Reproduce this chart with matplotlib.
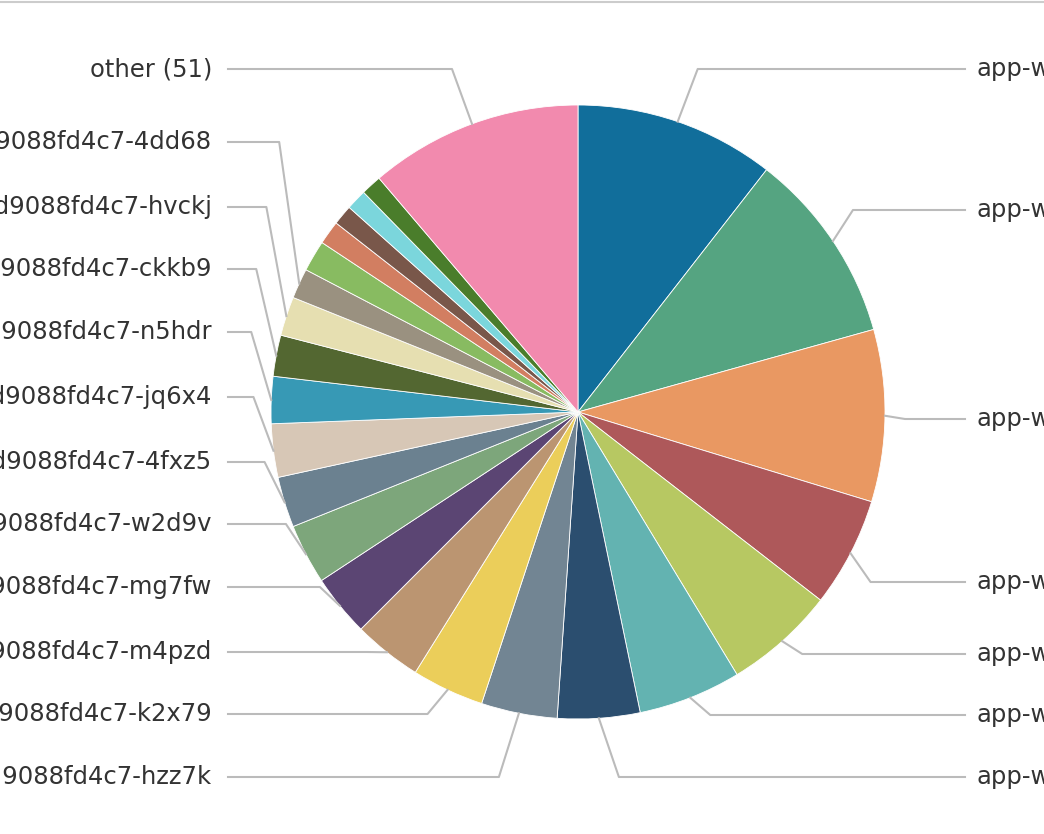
import matplotlib
matplotlib.use("Agg")
import matplotlib.pyplot as plt
import numpy as np

prefix = "app-web-5c7d9088fd4c7-"
labels = ["app-web-5c7d9088fd4c7-x8lq2", "app-web-5c7d9088fd4c7-p9tbn", "app-web-5c7d9088fd4c7-rz4kd",
          "app-web-5c7d9088fd4c7-7vw2s", "app-web-5c7d9088fd4c7-b6jmt", "app-web-5c7d9088fd4c7-q2cfx",
          "app-web-5c7d9088fd4c7-l5n8g",
          prefix + "hzz7k", prefix + "k2x79", prefix + "m4pzd", prefix + "mg7fw", prefix + "w2d9v",
          prefix + "4fxz5", prefix + "jq6x4", prefix + "n5hdr", prefix + "ckkb9", prefix + "hvckj",
          prefix + "4dd68", prefix + "t7rbc", prefix + "s3wqe", prefix + "g8mzv", prefix + "d2kph",
          "other (51)"]
values = [37.9, 36.5, 32.6, 20.8, 21.0, 19.5, 15.6, 14.4, 13.7, 13.0, 11.7, 11.4, 9.6, 10.1,
          8.9, 7.8, 7.4, 5.7, 5.9, 4.5, 3.8, 3.9, 3.9, 40.4]
names = labels[:18] + ["", "", "", "", "", labels[-1]]
colors = ["#116e9b", "#55a481", "#e99862", "#ae585a", "#b7c862", "#63b3b1", "#2b4e6f", "#728593",
          "#ebce5a", "#bb9571", "#5b4573", "#7da67b", "#6b8190", "#d7c7b6", "#3799b5", "#536731",
          "#e6dfb1", "#9a9180", "#88bb61", "#d27e61", "#79574a", "#7bd6dc", "#4a7d2b", "#f28aae"]
label_y = {0: 72, 1: 213, 2: 422, 3: 585, 4: 657, 5: 718, 6: 780,
           7: 780, 8: 717, 9: 655, 10: 590, 11: 527, 12: 465, 13: 400, 14: 335,
           15: 272, 16: 210, 17: 145, 23: 72}

W, H = 1044, 834
fig = plt.figure(figsize=(W / 100, H / 100), dpi=100)
ax = fig.add_axes([0, 0, 1, 1])
cx, cy, r = 578, H - 412, 307
ax.pie(values, colors=colors, startangle=90, counterclock=False, center=(cx, cy), radius=r,
       wedgeprops=dict(edgecolor="white", linewidth=0.6), frame=True)
ax.set_xlim(0, W)
ax.set_ylim(0, H)
ax.set_aspect("equal")
ax.axis("off")
ax.plot([0, W], [H - 2, H - 2], color="#cccccc", lw=1.5)

tot = sum(values)
cum = 0
for i, v in enumerate(values):
    mid = (cum + v / 2) / tot * 2 * np.pi
    cum += v
    if i not in label_y:
        continue
    x1, y1 = cx + r * np.sin(mid), cy + r * np.cos(mid)
    ly = H - label_y[i] + 3
    right = np.sin(mid) > 0
    s = 1 if right else -1
    x2 = x1 + s * 20
    xt = 965 if right else 228
    ax.plot([x1, x2, xt], [y1, ly, ly], color="#bbbbbb", lw=1.5)
    ax.text(977 if right else 212, ly, names[i], ha="left" if right else "right", va="center",
            fontsize=17.5, color="#333333")
fig.savefig("out.png", dpi=100)
